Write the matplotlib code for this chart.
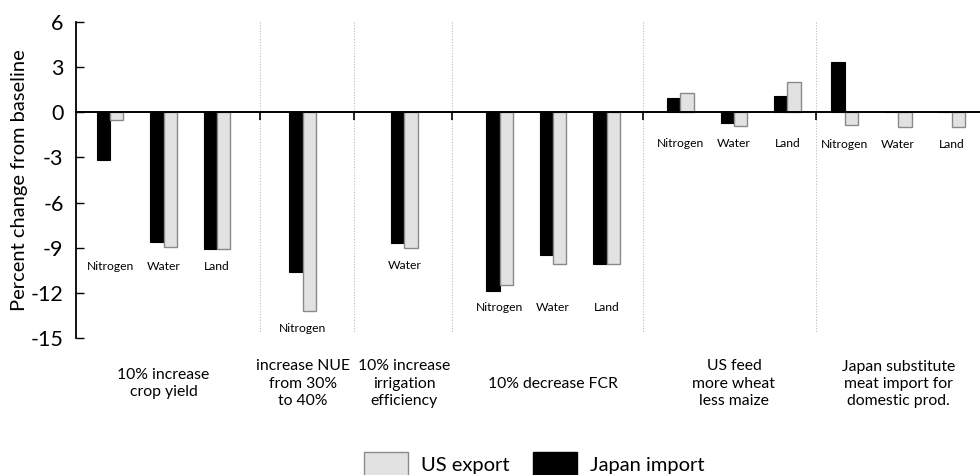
import matplotlib
matplotlib.use("Agg")
import matplotlib.pyplot as plt
import matplotlib.transforms as mtransforms
from matplotlib.patches import Patch
import numpy as np

plt.rcParams['font.family'] = ['Lato', 'DejaVu Sans']

# ---------------- data ----------------
scenarios = [
    "10% increase\ncrop yield",
    "increase NUE\nfrom 30%\nto 40%",
    "10% increase\nirrigation\nefficiency",
    "10% decrease FCR",
    "US feed\nmore wheat\nless maize",
    "Japan substitute\nmeat import for\ndomestic prod.",
]
categories = [
    ["Nitrogen", "Water", "Land"],
    ["Nitrogen"],
    ["Water"],
    ["Nitrogen", "Water", "Land"],
    ["Nitrogen", "Water", "Land"],
    ["Nitrogen", "Water", "Land"],
]
japan_import = [
    [-3.2, -8.6, -9.1],
    [-10.6],
    [-8.7],
    [-11.85, -9.5, -10.05],
    [0.98, -0.72, 1.1],
    [3.35, 0.0, 0.0],
]
us_export = [
    [-0.5, -8.95, -9.1],
    [-13.2],
    [-9.0],
    [-11.45, -10.05, -10.05],
    [1.3, -0.93, 1.98],
    [-0.82, -0.95, -1.0],
]
yticks = [6, 3, 0, -3, -6, -9, -12, -15]

# ---------------- layout ----------------
group_gaps = [1.6, 1.9, 1.78, 1.38, 1.07]
bar_w = 0.25

fig = plt.figure(figsize=(9.8, 4.75), dpi=100)
ax = fig.add_axes([0.0776, 0.2884, 0.9224, 0.6653])

positions = []
start = 0.0
for g, cats in enumerate(categories):
    pos = [start + i for i in range(len(cats))]
    positions.append(pos)
    if g < len(group_gaps):
        start = pos[-1] + group_gaps[g]

seps = [(positions[g][-1] + positions[g + 1][0]) / 2 for g in range(len(categories) - 1)]

for g in range(len(categories)):
    p = np.array(positions[g])
    ax.bar(p - bar_w / 2, japan_import[g], width=bar_w, color='black',
           edgecolor='black', linewidth=0.8, zorder=3)
    ax.bar(p + bar_w / 2, us_export[g], width=bar_w, color='#e2e2e2',
           edgecolor='#8a8a8a', linewidth=1.0, zorder=3)
    low = min(min(japan_import[g]), min(us_export[g]), 0)
    for x, c in zip(p, categories[g]):
        ax.text(x, low - 1.15, c, ha='center', va='center', fontsize=8.7,
                color='black')

for s in seps:
    ax.plot([s, s], [6, -14.6], color='#bdbdbd', lw=0.8,
            linestyle=(0, (1, 1.5)), zorder=1, clip_on=False)

ax.set_xlim(-0.636, 16.26)
ax.set_ylim(-15, 6)

ax.spines['top'].set_visible(False)
ax.spines['right'].set_visible(False)
ax.spines['bottom'].set_position(('data', 0))
ax.spines['bottom'].set_linewidth(1.4)
ax.spines['bottom'].set_zorder(4)
ax.spines['left'].set_linewidth(1.3)

ax.set_yticks(yticks)
ax.set_yticklabels([str(t) for t in yticks])
ax.tick_params(axis='y', direction='in', length=6, width=1, labelsize=15.5,
               pad=9, colors='black')
ax.set_xticks(seps)
ax.set_xticklabels([])
ax.tick_params(axis='x', direction='out', length=6, width=1.2)

ax.set_ylabel("Percent change from baseline", fontsize=14.5)
ax.yaxis.set_label_coords(-0.053, 0.5)

trans = mtransforms.blended_transform_factory(ax.transData, fig.transFigure)
for g, lab in enumerate(scenarios):
    cx = np.mean(positions[g])
    ax.text(cx, 0.192, lab, transform=trans, ha='center', va='center',
            fontsize=11.3, linespacing=1.3, color='black')

handles = [Patch(facecolor='#e2e2e2', edgecolor='#8a8a8a', label='US export'),
           Patch(facecolor='black', edgecolor='black', label='Japan import')]
fig.legend(handles=handles, loc='center', bbox_to_anchor=(0.545, 0.022), ncol=2,
           frameon=False, fontsize=14.5, handlelength=2.2, handleheight=1.6,
           handletextpad=0.6, columnspacing=1.2)

fig.savefig("out.png", dpi=100)
